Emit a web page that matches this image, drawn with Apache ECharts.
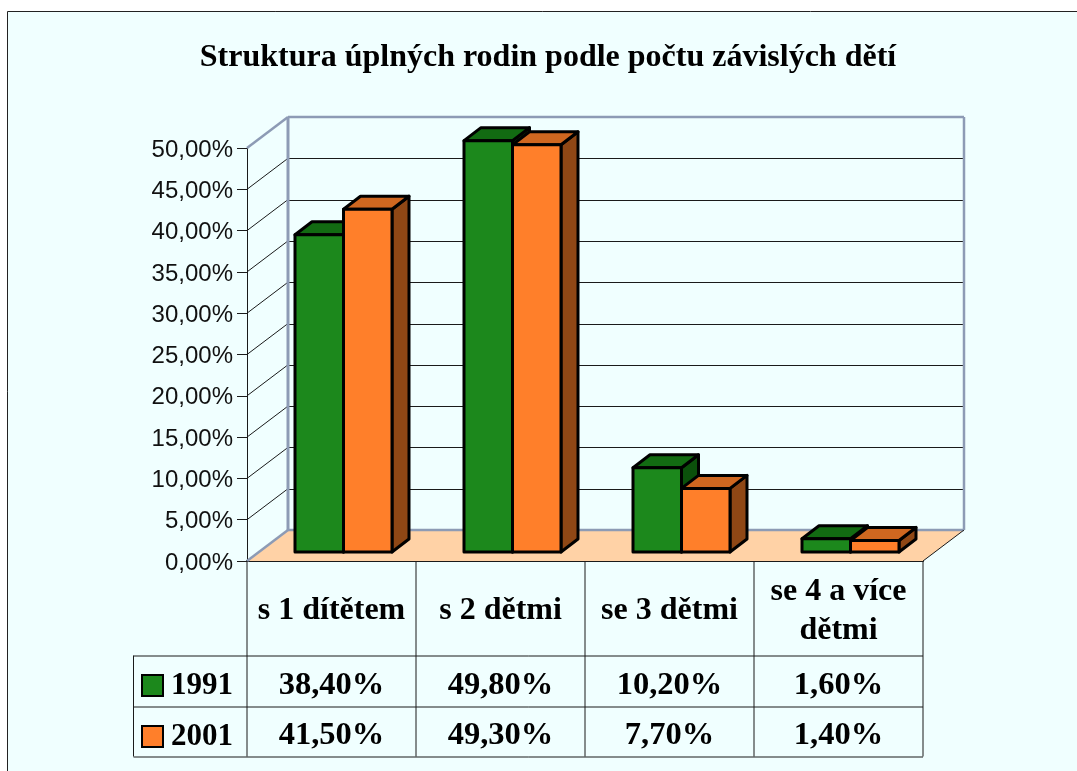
<!DOCTYPE html>
<html><head><meta charset="utf-8">
<style>html,body{margin:0;padding:0;background:#fff}#c{width:1077px;height:771px}</style>
<script src="https://cdn.jsdelivr.net/npm/echarts@6/dist/echarts.min.js"></script>
</head><body><div id="c"></div>
<script>
var titleText = 'Struktura úplných rodin podle počtu závislých dětí';
var categories = ['s 1 dítětem', 's 2 dětmi', 'se 3 dětmi', 'se 4 a více\ndětmi'];
var seriesNames = ['1991', '2001'];
var values1991 = [38.4, 49.8, 10.2, 1.6];
var values2001 = [41.5, 49.3, 7.7, 1.4];
var yTicks = [0, 5, 10, 15, 20, 25, 30, 35, 40, 45, 50];

var SERIF = '"Liberation Serif","Times New Roman",serif';
var SANS = '"Liberation Sans",Arial,sans-serif';
var WALL = '#8D9BB5', INK = '#1a1a1a', BG = '#F0FFFF';
var DX = 41, DY = 31;           // depth of the chart box
var BX = 12, BY = 9;            // front of the bars inside the box
var PX = 17, PY = 13;           // depth of a bar
var BARW = 48.5;
var ROWS = [125, 175];          // value-row text centres below the axis
var TABLE_Y = [94.5, 145.5, 195.5];
var TABLE_LEFT = 133.5;
var C = [
  {front:'#1C881C', top:'#126B12', side:'#0B500B'},
  {front:'#FF7F2A', top:'#CF6720', side:'#8F4715'}
];
function crisp(v){ return Math.round(v) + 0.5; }
function line(x1,y1,x2,y2,color,w){
  return {type:'line', shape:{x1:x1,y1:y1,x2:x2,y2:y2}, style:{stroke:color,lineWidth:w,fill:null}, silent:true};
}
function poly(points,fill){
  return {type:'polygon', shape:{points:points}, style:{fill:fill,stroke:'#000',lineWidth:3,lineJoin:'round'}, silent:true};
}
function renderBox(params, api){
  var g = params.coordSys, v = api.value(1), y = api.coord([0,v])[1];
  var l = g.x, r = g.x + g.width, kids = [];
  if (v === 0){
    kids.push({type:'polygon', shape:{points:[[l,y],[l+DX,y-DY],[r+DX,y-DY],[r,y]]}, style:{fill:'#FFD2A6'}, silent:true});
    kids.push(line(l+DX,y-DY,r+DX,y-DY,WALL,2.5));
    kids.push(line(l,y,l+DX,y-DY,WALL,2.5));
    kids.push(line(r,y,r+DX,y-DY,INK,1));
    // data-table rules
    var b = y;
    TABLE_Y.forEach(function(t){
      kids.push(line(TABLE_LEFT,crisp(b+t)-0.5,r,crisp(b+t)-0.5,INK,1));
    });
    for (var i=0;i<=4;i++){
      var cx = l + g.width*i/4;
      kids.push(line(crisp(cx)-0.5,b,crisp(cx)-0.5,b+TABLE_Y[2],INK,1));
    }
    kids.push(line(TABLE_LEFT,b+TABLE_Y[0],TABLE_LEFT,b+TABLE_Y[2],INK,1));
  } else if (v === 50){
    kids.push(line(l,y,l+DX,y-DY,WALL,2.5));
    kids.push(line(l+DX,y-DY,r+DX,y-DY,WALL,2.5));
    kids.push(line(l+DX,y-DY,l+DX,api.coord([0,0])[1]-DY,WALL,3));
    kids.push(line(r+DX,y-DY,r+DX,api.coord([0,0])[1]-DY,WALL,2.5));
  } else {
    var yy = crisp(y-DY);
    kids.push(line(l,y,l+DX,y-DY,INK,1));
    kids.push(line(l+DX,yy,r+DX,yy,INK,1));
  }
  return {type:'group', children:kids};
}
function fmt(v){ return v.toFixed(2).replace('.',',') + '%'; }
function barRenderer(si){
  return function(params, api){
    var cat = api.value(0), v = api.value(1);
    var top = api.coord([cat,v]), base = api.coord([cat,0]);
    var x0 = top[0] + BX + (si===0 ? -BARW : 0), x1 = x0 + BARW;
    var y0 = top[1] - BY, y1 = base[1] - BY, c = C[si];
    return {type:'group', children:[
      poly([[x1,y0],[x1+PX,y0-PY],[x1+PX,y1-PY],[x1,y1]], c.side),
      poly([[x0,y0],[x0+PX,y0-PY],[x1+PX,y0-PY],[x1,y0]], c.top),
      poly([[x0,y0],[x1,y0],[x1,y1],[x0,y1]], c.front),
      {type:'text', silent:true, style:{x:top[0], y:base[1]+ROWS[si], text:fmt(v), align:'center', verticalAlign:'middle',
        font:'bold 32.5px '+SERIF, fill:'#000'}}
    ]};
  };
}
function pairs(a){ return a.map(function(v,i){ return [i,v]; }); }
var option = {
  animation:false,
  backgroundColor:'#fff',
  graphic:[{type:'rect', z:-10, shape:{x:7.5,y:11.5,width:1100,height:800}, style:{fill:BG,stroke:'#222',lineWidth:1}, silent:true}],
  title:{text:titleText, left:543, top:37, textAlign:'center',
    textStyle:{fontFamily:SERIF, fontWeight:'bold', fontSize:32, color:'#000'}},
  legend:{data:seriesNames, orient:'vertical', left:141, top:670, padding:0, height:90, itemWidth:21, itemHeight:21, itemGap:20, icon:'rect',
    selectedMode:false, textStyle:{fontFamily:SERIF, fontWeight:'bold', fontSize:31, color:'#000', lineHeight:24, height:24, padding:[2,0,0,3]}},
  grid:{left:247, right:154, top:148, bottom:210},
  xAxis:{type:'category', data:categories, axisTick:{show:false},
    axisLine:{lineStyle:{color:INK,width:2}},
    axisLabel:{interval:0, margin:50, fontFamily:SERIF, fontWeight:'bold', fontSize:32, color:'#000', lineHeight:39, verticalAlign:'middle'}},
  yAxis:{type:'value', min:0, max:50, interval:5, splitLine:{show:false},
    axisLine:{show:true,lineStyle:{color:INK,width:1}},
    axisTick:{show:true,length:10,lineStyle:{color:INK,width:1}},
    axisLabel:{margin:14, verticalAlign:'top', lineHeight:4, fontFamily:SANS, fontSize:24, color:'#111', formatter:function(v){return v.toFixed(2).replace('.',',')+'%';}}},
  series:[
    {type:'custom', name:'box', renderItem:renderBox, data:yTicks.map(function(v){return [0,v];}), silent:true, clip:false},
    {type:'custom', name:seriesNames[0], renderItem:barRenderer(0), data:pairs(values1991), silent:true, clip:false,
      itemStyle:{color:C[0].front,borderColor:'#000',borderWidth:2}},
    {type:'custom', name:seriesNames[1], renderItem:barRenderer(1), data:pairs(values2001), silent:true, clip:false,
      itemStyle:{color:C[1].front,borderColor:'#000',borderWidth:2}}
  ]
};
echarts.init(document.getElementById('c'),null,{renderer:'canvas'}).setOption(option);
</script></body></html>
